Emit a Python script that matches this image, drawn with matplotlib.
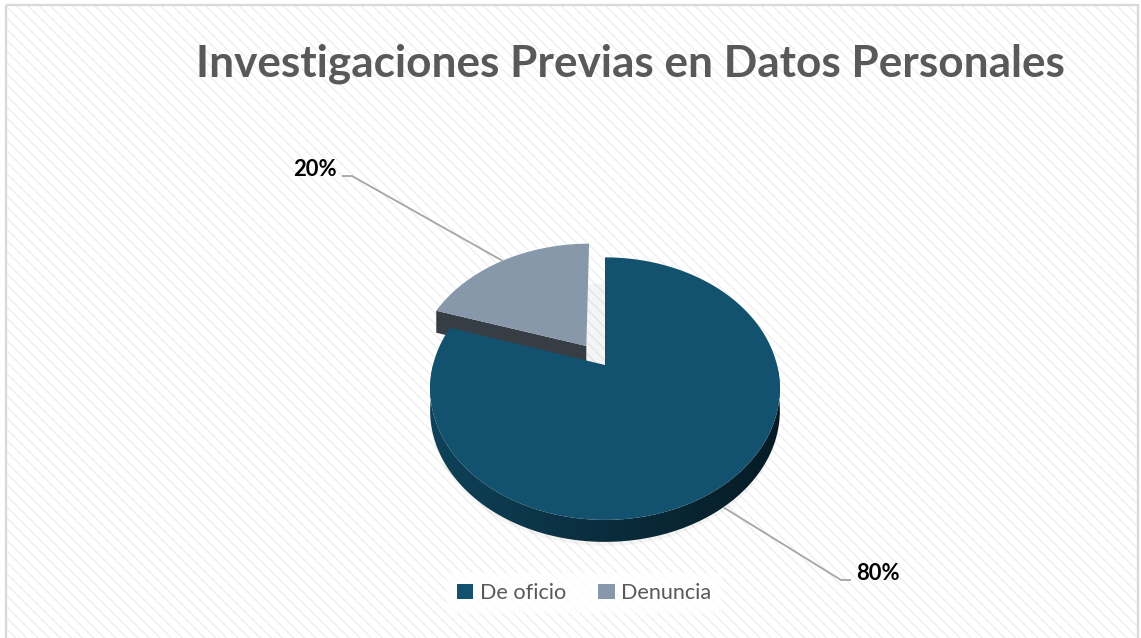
import numpy as np
import matplotlib.pyplot as plt
from matplotlib.patches import Polygon, Rectangle, Patch
from matplotlib.colors import to_rgb, LinearSegmentedColormap

categories = ["De oficio", "Denuncia"]
values = [80, 20]
pct_labels = ["80%", "20%"]
colors = ["#12526F", "#8798AB"]
explode = [0.0, 0.19]
title = "Investigaciones Previas en Datos Personales"

W, H = 1141, 638
plt.rcParams['font.family'] = ['Lato', 'DejaVu Sans']
plt.rcParams['hatch.linewidth'] = 1.1

fig = plt.figure(figsize=(W / 100, H / 100), dpi=100)
ax = fig.add_axes([0, 0, 1, 1])
ax.set_xlim(0, W)
ax.set_ylim(H, 0)
ax.axis('off')

# background: white with faint diagonal stripes and a light border
ax.add_patch(Rectangle((0, 0), W, H, facecolor='white', edgecolor='none', zorder=0))
ax.add_patch(Rectangle((6, 5), W - 9, H, facecolor='white', edgecolor='#F0F0F0',
                       hatch='\\\\\\', lw=0, zorder=0))
ax.add_patch(Rectangle((6, 5), W - 9, H, facecolor='none', edgecolor='#D9D9D9',
                       lw=1.6, zorder=1))

# perspective projection of the pie disk
cx, cy = 605, 365
R, Rk, g = 172, 127, 0.18
depth = 22


def proj(u, v, dz=0.0):
    s = 1 + g * v
    return cx + R * u / s, cy - Rk * v / s + dz


def shade(c, f):
    return tuple(np.array(to_rgb(c)) * f)


total = sum(values)
starts, ends = [], []
a = 90.0
for v in values:
    starts.append(a)
    a -= v / total * 360
    ends.append(a)

# soft shadow under the disk
tt = np.radians(np.linspace(0, 360, 200))
pts = [proj(np.cos(t), np.sin(t), depth + 4) for t in tt]
ax.add_patch(Polygon(pts, closed=True, facecolor='black', edgecolor='none',
                     alpha=0.04, zorder=2))

order = sorted(range(len(values)), key=lambda i: -explode[i])
z = 3
for i in order:
    t0, t1 = starts[i], ends[i]
    mid = np.radians((t0 + t1) / 2)
    ou, ov = explode[i] * np.cos(mid), explode[i] * np.sin(mid)
    col = colors[i]

    # radial cut faces
    for edge, nrm in [(t0, t0 + 90), (t1, t1 - 90)]:
        if np.sin(np.radians(nrm)) < -0.05:
            e = np.radians(edge)
            p0 = proj(ou, ov)
            p1 = proj(ou + np.cos(e), ov + np.sin(e))
            quad = [p0, p1, (p1[0], p1[1] + depth), (p0[0], p0[1] + depth)]
            ax.add_patch(Polygon(quad, closed=True, facecolor=shade(col, 0.4),
                                 edgecolor='none', zorder=z))
    z += 1

    # outer curved side (front half only), filled with a horizontal gradient
    ts = np.linspace(t0, t1, 600)
    front = [t for t in ts if np.sin(np.radians(t)) < 0]
    if front:
        fr = np.radians(np.array(front))
        top = [proj(ou + np.cos(t), ov + np.sin(t)) for t in fr]
        bot = [(x, y + depth) for x, y in top[::-1]]
        side = Polygon(top + bot, closed=True, facecolor='none', edgecolor='none')
        ax.add_patch(side)
        cmap = LinearSegmentedColormap.from_list(
            's', [shade(col, 0.8), shade(col, 0.55), shade(col, 0.33)])
        xs = [p[0] for p in top]
        grad = np.linspace(0, 1, 256).reshape(1, -1)
        im = ax.imshow(grad, cmap=cmap, aspect='auto', zorder=z,
                       extent=(min(xs), max(xs), cy + 200, cy - 20),
                       interpolation='bilinear')
        im.set_clip_path(side)
        ax.set_xlim(0, W)
        ax.set_ylim(H, 0)
    z += 1

    # top face
    arc = np.radians(ts)
    pts = [proj(ou, ov)] + [proj(ou + np.cos(t), ov + np.sin(t)) for t in arc]
    ax.add_patch(Polygon(pts, closed=True, facecolor=col, edgecolor='none', zorder=z))
    z += 1

# data labels with leader lines
lab_pos = {0: (856, 574, 'left'), 1: (337, 170, 'right')}
for i in range(len(values)):
    mid = np.radians((starts[i] + ends[i]) / 2)
    ou, ov = explode[i] * np.cos(mid), explode[i] * np.sin(mid)
    dz = depth if np.sin(mid) < 0 else 0
    px, py = proj(ou + np.cos(mid), ov + np.sin(mid), dz)
    lx, ly, ha = lab_pos[i]
    sgn = -1 if ha == 'left' else 1
    ly2 = ly + 6
    ax.plot([px, lx + sgn * 15, lx + sgn * 5], [py, ly2, ly2], color='#A6A6A6',
            lw=1.3, zorder=20, solid_capstyle='butt')
    ax.text(lx, ly, pct_labels[i], ha=ha, va='center', fontsize=15.8,
            fontweight='bold', color='black', zorder=21)

ax.text(630, 64, title, ha='center', va='center', fontsize=31.8,
        fontweight='bold', color='#595959', zorder=21)

handles = [Patch(facecolor=c, edgecolor='none') for c in colors]
leg = fig.legend(handles, categories, loc='center', ncol=2,
                 bbox_to_anchor=(584 / W, 1 - 593 / H), frameon=True,
                 fancybox=False, fontsize=15.6, handlelength=0.75,
                 handleheight=0.75, handletextpad=0.3, columnspacing=1.5,
                 borderpad=0.45)
leg.get_frame().set_facecolor('white')
leg.get_frame().set_edgecolor('none')
for t in leg.get_texts():
    t.set_color('#595959')

fig.savefig('out.png', dpi=100)
